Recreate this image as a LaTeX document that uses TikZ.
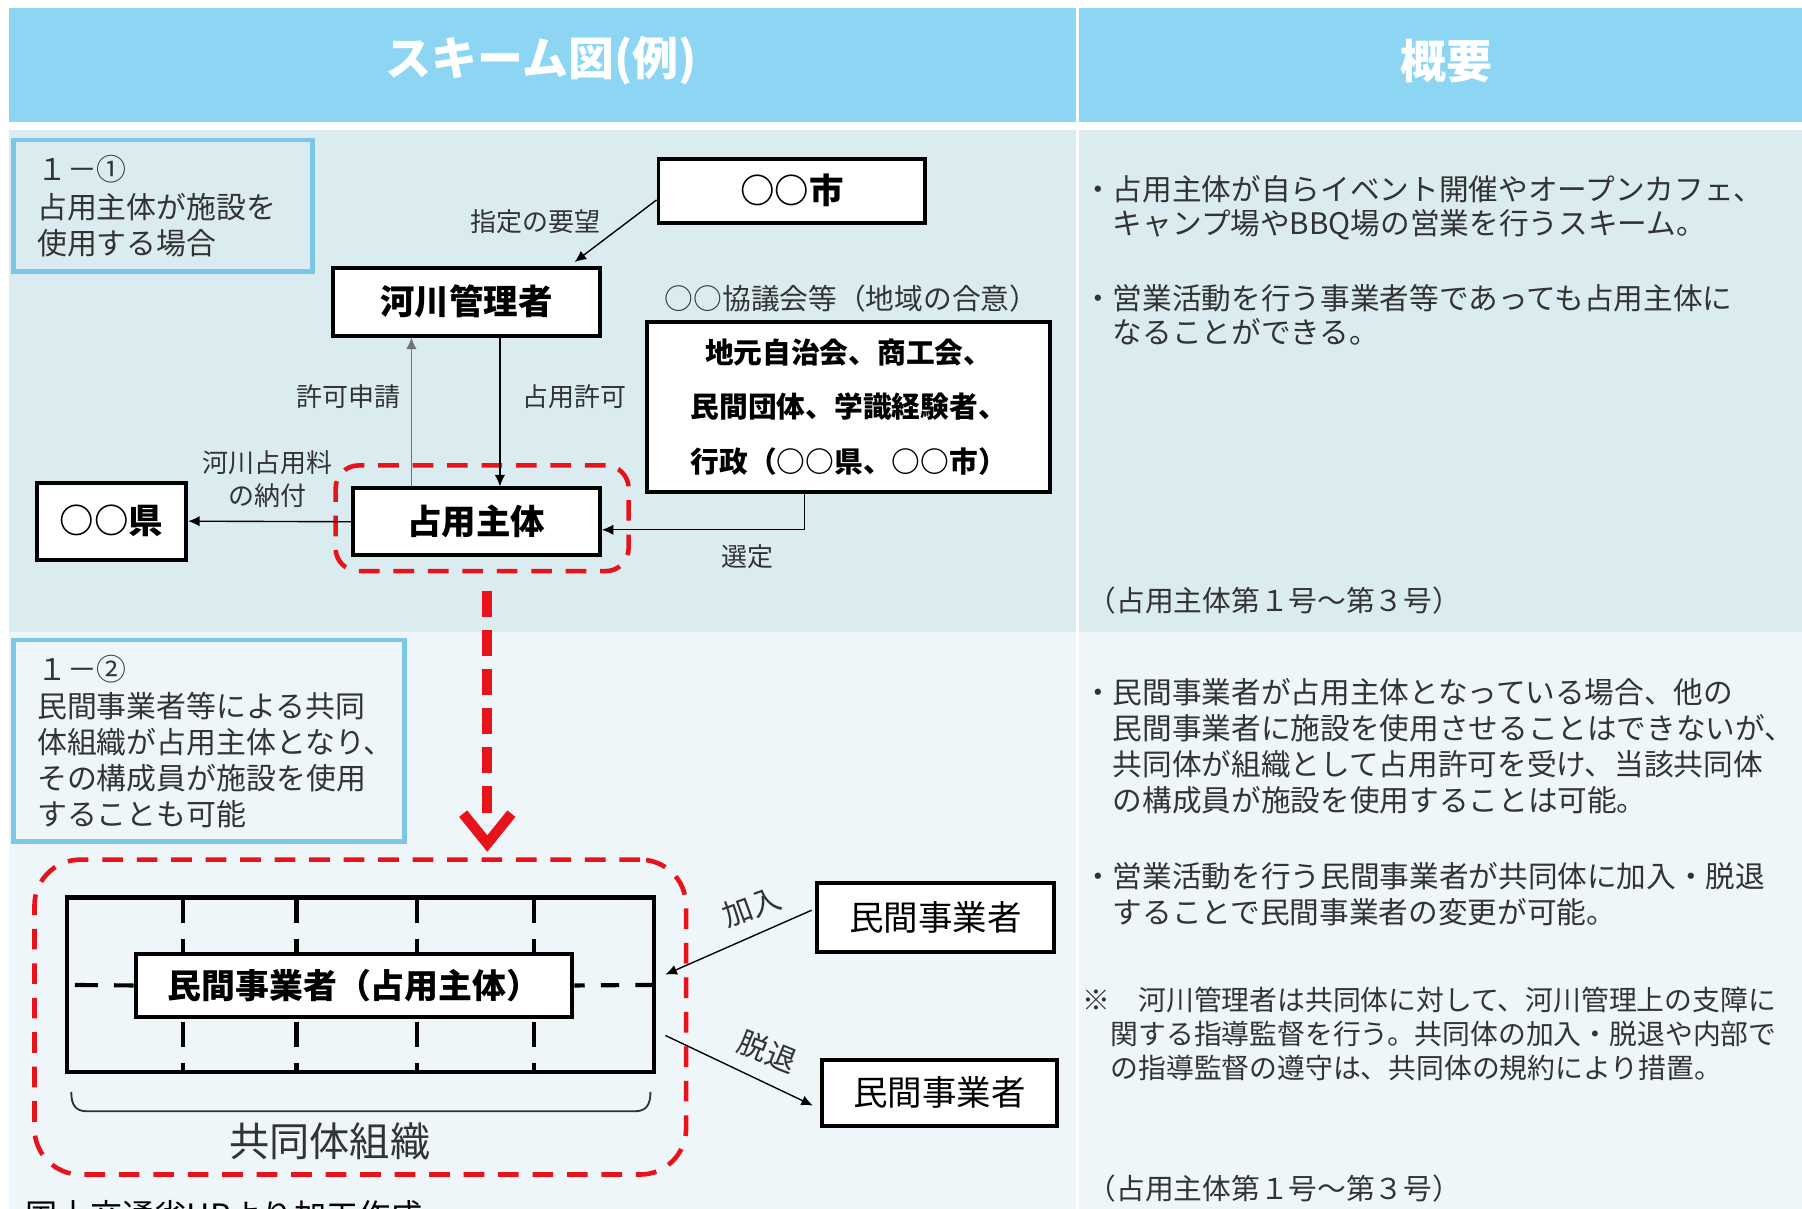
\documentclass[tikz,border=0pt]{standalone}
\usepackage{fontspec}
\setmainfont{Noto Sans CJK JP}
\usetikzlibrary{arrows.meta,calc}
\definecolor{hdr}{HTML}{8DD6F3}
\definecolor{topbg}{HTML}{DAECF0}
\definecolor{botbg}{HTML}{EFF6F9}
\definecolor{lblue}{HTML}{7CC7E8}
\definecolor{redc}{HTML}{E8121B}
\definecolor{txt}{HTML}{333333}
\begin{document}
\begin{tikzpicture}[x=0.5pt,y=-0.5pt,
  box/.style={draw=black,line width=1.7pt,fill=white,inner sep=0pt},
  bigb/.style={box,font=\bfseries\fontsize{15}{18}\selectfont},
  regb/.style={box,font=\fontsize{15}{18}\selectfont},
  lbl/.style={text=txt,inner sep=0pt,font=\fontsize{11.3}{14.5}\selectfont},
  arr/.style={-{Latex[length=5pt,width=4.5pt]},line width=0.6pt},
  reddash/.style={draw=redc,line width=2pt,dash pattern=on 9pt off 6pt},
  para/.style={anchor=north west,align=left,inner sep=0pt,text=txt},
  infob/.style={draw=lblue,line width=2pt},
  vdash/.style={line width=1.8pt,dash pattern=on 11pt off 7pt},
]
\useasboundingbox (0,0) rectangle (1568,1052);
\clip (0,0) rectangle (1568,1052);
% backgrounds
\fill[white] (0,0) rectangle (1568,1052);
\fill[hdr] (8,7) rectangle (936,106);
\fill[hdr] (939,7) rectangle (1568,106);
\fill[topbg] (8,113) rectangle (1568,550);
\fill[botbg] (8,550) rectangle (1568,1052);
\draw[white,line width=1.5pt] (937.5,113) -- (937.5,1052);
% headers
\node[text=white,font=\bfseries\fontsize{20}{24}\selectfont] (h1) at (471,53) {スキーム図(例)};
\node[text=white,font=\bfseries\fontsize{20}{24}\selectfont] (h2) at (1259,53) {概要};
% ---------- top section ----------
\draw[infob] (12,122) rectangle (272,236);
\node[para,font=\fontsize{13}{15.5}\selectfont] (t1) at (32,135) {１－①\\[1pt]占用主体が施設を\\使用する場合};

\node[reddash,rounded corners=10pt,minimum width=127.5pt,minimum height=46pt] (g1) at (419.5,451) {};

\node[bigb,minimum width=116pt,minimum height=28pt] (shi) at (689,166) {○○市};
\node[bigb,minimum width=116pt,minimum height=29.5pt] (kasen) at (406,262.5) {河川管理者};
\node[box,align=center,font=\bfseries\fontsize{12.5}{23.75}\selectfont,minimum width=175.5pt,minimum height=74pt] (kyogi) at (738.5,354) {地元自治会、商工会、\\民間団体、学識経験者、\\行政（○○県、○○市）};
\node[lbl,font=\fontsize{12.5}{15}\selectfont] (kyl) at (741,260) {○○協議会等（地域の合意）};
\node[bigb,minimum width=107.5pt,minimum height=29pt] (senyo) at (414.5,454) {占用主体};
\node[bigb,minimum width=65pt,minimum height=33.5pt] (ken) at (97,453.5) {○○県};

\coordinate (kt) at (500,228);
\coordinate (xa) at (358,0);
\coordinate (xb) at (435,0);
\coordinate (sel) at (700,461);
\draw[arr] ($(shi.west)+(0,8)$) -- (kt);
\node[lbl] (l1) at (466,193) {指定の要望};
\draw[arr,draw=black!55] (senyo.north -| xa) -- (kasen.south -| xa);
\node[lbl] (l2) at (303,345) {許可申請};
\draw[arr] (kasen.south -| xb) -- (senyo.north -| xb);
\node[lbl] (l3) at (500,345) {占用許可};
\draw[arr] (senyo.west) -- (ken.east);
\node[lbl,align=center] (l4) at (233,417) {河川占用料\\の納付};
\draw[arr] (kyogi.south -| sel) |- (senyo.east |- sel);
\node[lbl] (l5) at (650,484) {選定};

% right top
\node[para,font=\fontsize{12.9}{15}\selectfont] (pa) at (968,152) {\llap{・}占用主体が自らイベント開催やオープンカフェ、\\キャンプ場やBBQ場の営業を行うスキーム。};
\node[para,font=\fontsize{12.9}{15}\selectfont] (pb) at (968,247) {\llap{・}営業活動を行う事業者等であっても占用主体に\\なることができる。};
\node[para,font=\fontsize{12.5}{15}\selectfont] (pr1) at (946,510.5) {（占用主体第１号～第３号）};

% ---------- bottom section ----------
\draw[infob] (12,557) rectangle (352,732);
\node[para,font=\fontsize{13}{15.75}\selectfont] (t2) at (32,570) {１－②\\民間事業者等による共同\\体組織が占用主体となり、\\その構成員が施設を使用\\することも可能};

\node[reddash,rounded corners=20pt,minimum width=283.5pt,minimum height=137pt] (g2) at (313.5,885) {};
\coordinate (rx) at (424,0);
\draw[redc,line width=4.5pt,dash pattern=on 11.5pt off 5.5pt] ($(g1.south -| rx)+(0,15)$) -- ($(g2.north -| rx)+(0,-28)$);
\draw[redc,line width=4.5pt] ($(g2.north -| rx)+(-21,-38)$) -- ($(g2.north -| rx)+(0,-12)$) -- ($(g2.north -| rx)+(21,-38)$);

\node[draw=black,line width=1.8pt,minimum width=255.5pt,minimum height=76pt,inner sep=0pt] (kyodo) at (313.5,857) {};
\foreach \x in {159,258,363,465} \draw[vdash] (\x,781) -- (\x,933);
\node[bigb,font=\bfseries\fontsize{14.75}{18}\selectfont,minimum width=190pt,minimum height=27.5pt,line width=1.8pt] (inner) at (308,857.5) {民間事業者（占用主体）};
\draw[line width=1.8pt,dash pattern=on 10pt off 7pt,dash phase=12.5pt] (kyodo.west) -- (inner.west);
\draw[line width=1.8pt,dash pattern=on 8pt off 7pt,dash phase=14pt] (kyodo.east) -- (inner.east);
\draw[line width=0.8pt,draw=txt] (62,950) .. controls (62,962) and (66,967) .. (76,967) -- (552,967) .. controls (562,967) and (566,962) .. (566,950);
\node[text=txt,inner sep=0pt,font=\fontsize{17.5}{20}\selectfont] (kyl2) at (287,993) {共同体組織};

\node[regb,minimum width=103pt,minimum height=30pt] (min1) at (814,798) {民間事業者};
\node[regb,minimum width=102.5pt,minimum height=29pt] (min2) at (817.5,951) {民間事業者};
\coordinate (jin) at (579,848);
\coordinate (dout) at (579,901);
\draw[arr] ($(min1.west)+(-3,-6)$) -- (jin);
\draw[arr] (dout) -- ($(min2.west)+(-6,11)$);
\node[lbl,font=\fontsize{13}{15}\selectfont,rotate=20] (l6) at (654,789) {加入};
\node[lbl,font=\fontsize{13}{15}\selectfont,rotate=-22] (l7) at (668,915) {脱退};

% right bottom
\node[para,font=\fontsize{12.9}{15.65}\selectfont] (pc) at (968,590) {\llap{・}民間事業者が占用主体となっている場合、他の\\民間事業者に施設を使用させることはできないが、\\共同体が組織として占用許可を受け、当該共同体\\の構成員が施設を使用することは可能。};
\node[para,font=\fontsize{12.9}{15.5}\selectfont] (pd) at (968,750) {\llap{・}営業活動を行う民間事業者が共同体に加入・脱退\\することで民間事業者の変更が可能。};
\node[para,font=\fontsize{12.1}{15}\selectfont] (pe) at (966,858) {\llap{※}　河川管理者は共同体に対して、河川管理上の支障に\\関する指導監督を行う。共同体の加入・脱退や内部で\\の指導監督の遵守は、共同体の規約により措置。};
\node[para,font=\fontsize{12.5}{15}\selectfont] (pr2) at (946,1022) {（占用主体第１号～第３号）};

\node[anchor=base west,inner sep=0pt,font=\fontsize{14}{16}\selectfont] (src) at (22,1068) {国土交通省HPより加工作成};
\end{tikzpicture}
\end{document}
